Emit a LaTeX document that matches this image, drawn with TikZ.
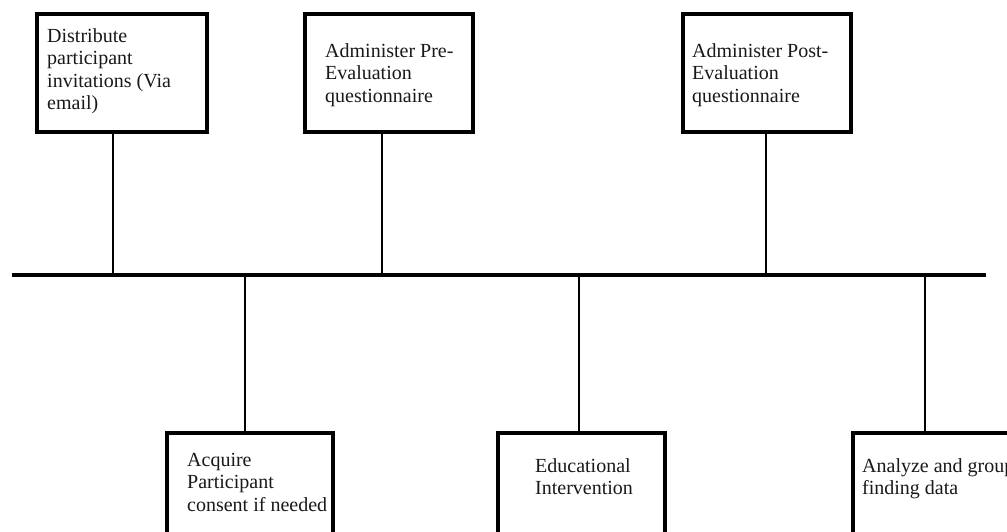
\documentclass[tikz,border=0pt]{standalone}
\usepackage{fontspec}
\setmainfont{Liberation Serif}
\begin{document}
\begin{tikzpicture}[x=1pt,y=-1pt,
  box/.style={draw=black, line width=3.2pt, fill=white, minimum width=#1, minimum height=118pt, inner sep=0pt, outer sep=0pt},
  box/.default=170pt,
  lbl/.style={anchor=north west, inner sep=0pt, align=left, font=\fontsize{20}{22.5}\selectfont, text=black!90},
  stem/.style={line width=2.6pt},
  mainline/.style={line width=3.4pt}]
\useasboundingbox (0,0) rectangle (1007,532);
\clip (0,0) rectangle (1007,532);
% main line
\coordinate (L) at (12,275);
\coordinate (R) at (986,275);
\draw[mainline] (L) -- (R);
% stem coordinates on line
\coordinate (s1) at (113,275);
\coordinate (s2) at (382,275);
\coordinate (s3) at (766,275);
\coordinate (s4) at (245,275);
\coordinate (s5) at (579,275);
\coordinate (s6) at (925,275);
% top boxes
\node[box=170pt] (b1) at (122,73) {};
\node[box=168pt] (b2) at (389,73) {};
\node[box=168pt] (b3) at (767,73) {};
% bottom boxes
\node[box=166pt] (b4) at (250,492) {};
\node[box=167pt] (b5) at (581.5,492) {};
\node[box=170pt] (b6) at (938,492) {};
% stems
\draw[stem] (b1.south -| s1) -- (s1);
\draw[stem] (b2.south -| s2) -- (s2);
\draw[stem] (b3.south -| s3) -- (s3);
\draw[stem] (s4) -- (b4.north -| s4);
\draw[stem] (s5) -- (b5.north -| s5);
\draw[stem] (s6) -- (b6.north -| s6);
% labels
\node[lbl] (t1) at (47,28) {Distribute\\participant\\invitations (Via\\email)};
\node[lbl] (t2) at (325,43) {Administer Pre-\\Evaluation\\questionnaire};
\node[lbl] (t3) at (692,43) {Administer Post-\\Evaluation\\questionnaire};
\node[lbl] (t4) at (187,453) {Acquire\\Participant\\consent if needed};
\node[lbl] (t5) at (535,458) {Educational\\Intervention};
\node[lbl] (t6) at (862,458) {Analyze and group\\finding data};
\end{tikzpicture}
\end{document}
